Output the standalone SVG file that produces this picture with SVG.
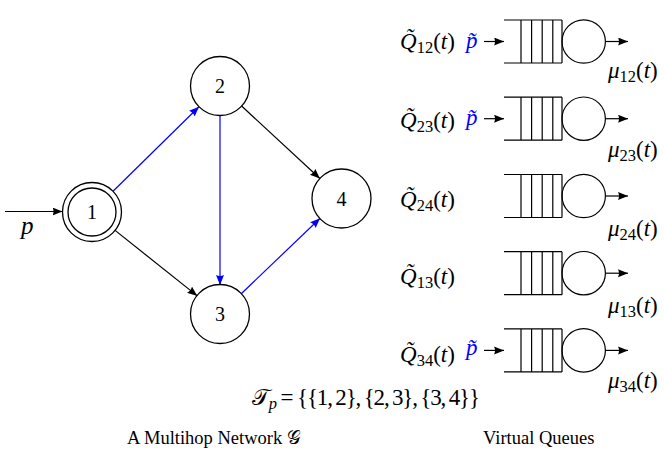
<svg xmlns="http://www.w3.org/2000/svg" xmlns:xlink="http://www.w3.org/1999/xlink" width="664" height="453" viewBox="0 0 664 453">
<style>
.ln{stroke:#000;stroke-width:1.2;fill:none}
.bl{stroke:#00f;stroke-width:1.2;fill:none}
.nd{stroke:#000;stroke-width:1.3;fill:#fff}
.m{font-family:"Liberation Serif","DejaVu Serif",serif;font-size:23px;fill:#000}
.it{font-style:italic}
.sub{font-size:16.5px}
.pb{fill:#00f}
.dg{font-family:"Liberation Serif","DejaVu Serif",serif;font-size:20px;text-anchor:middle;fill:#000}
.cap{font-family:"Liberation Serif","DejaVu Serif",serif;font-size:18.5px;fill:#000}
</style>
<defs>
<marker id="ak" markerUnits="userSpaceOnUse" markerWidth="12" markerHeight="10" refX="10" refY="4" orient="auto">
<path d="M0,0 L10,4 L0,8 Q2,4 0,0 z" fill="#000"/>
</marker>
<marker id="ab" markerUnits="userSpaceOnUse" markerWidth="12" markerHeight="10" refX="10" refY="4" orient="auto">
<path d="M0,0 L10,4 L0,8 Q2,4 0,0 z" fill="#00f"/>
</marker>
<g id="q">
<path class="ln" d="M504,-21.5H562M504,21.5H562M521,-21.5V21.5M531.6,-21.5V21.5M542.2,-21.5V21.5M552.8,-21.5V21.5M562,-21.5V21.5"/>
<circle class="ln" cx="583.7" cy="0" r="21.7"/>
<line class="ln" x1="605.4" y1="0" x2="628" y2="0" marker-end="url(#ak)"/>
</g>
<line id="qin" class="ln" x1="484" y1="0" x2="504" y2="0" marker-end="url(#ak)"/>
</defs>

<g id="connectors">
<line class="ln" x1="5" y1="211.5" x2="62.5" y2="211.5" marker-end="url(#ak)"/>
<line class="bl" x1="113" y1="191.3" x2="199" y2="106.7" marker-end="url(#ab)"/>
<line class="bl" x1="220" y1="115.5" x2="220" y2="285" marker-end="url(#ab)"/>
<line class="ln" x1="241.6" y1="106" x2="319.9" y2="178.5" marker-end="url(#ak)"/>
<line class="ln" x1="115.1" y1="230.4" x2="197.3" y2="295.9" marker-end="url(#ak)"/>
<line class="bl" x1="241" y1="294" x2="320.1" y2="218.2" marker-end="url(#ab)"/>
</g>

<g id="input-p"><text class="m it" x="21" y="234" style="font-size:25px">p</text></g>

<g id="node1">
<circle class="nd" cx="92" cy="212" r="29.5"/>
<circle class="nd" cx="92" cy="212" r="24"/>
<text class="dg" x="92" y="219">1</text>
</g>
<g id="node2">
<circle class="nd" cx="220" cy="86" r="29.5"/>
<text class="dg" x="220" y="93">2</text>
</g>
<g id="node3">
<circle class="nd" cx="220" cy="314" r="29.5"/>
<text class="dg" x="220" y="321">3</text>
</g>
<g id="node4">
<circle class="nd" cx="341.5" cy="198.5" r="29.5"/>
<text class="dg" x="341.5" y="205.5">4</text>
</g>

<g id="queue12">
<use xlink:href="#q" transform="translate(0,41.5)"/>
<use xlink:href="#qin" transform="translate(0,41.5)"/>
<text class="m" x="400" y="49"><tspan class="it">Q&#x303;</tspan><tspan class="sub" dy="4">12</tspan><tspan dy="-4">(</tspan><tspan class="it">t</tspan>)</text>
<text class="m it pb" x="466" y="48">p&#x303;</text>
<text class="m" x="608" y="78"><tspan class="it">μ</tspan><tspan class="sub" dy="4">12</tspan><tspan dy="-4">(</tspan><tspan class="it">t</tspan>)</text>
</g>
<g id="queue23">
<use xlink:href="#q" transform="translate(0,118.7)"/>
<use xlink:href="#qin" transform="translate(0,118.7)"/>
<text class="m" x="400" y="128"><tspan class="it">Q&#x303;</tspan><tspan class="sub" dy="4">23</tspan><tspan dy="-4">(</tspan><tspan class="it">t</tspan>)</text>
<text class="m it pb" x="466" y="125">p&#x303;</text>
<text class="m" x="608" y="157"><tspan class="it">μ</tspan><tspan class="sub" dy="4">23</tspan><tspan dy="-4">(</tspan><tspan class="it">t</tspan>)</text>
</g>
<g id="queue24">
<use xlink:href="#q" transform="translate(0,196)"/>
<text class="m" x="400" y="207"><tspan class="it">Q&#x303;</tspan><tspan class="sub" dy="4">24</tspan><tspan dy="-4">(</tspan><tspan class="it">t</tspan>)</text>
<text class="m" x="608" y="236"><tspan class="it">μ</tspan><tspan class="sub" dy="4">24</tspan><tspan dy="-4">(</tspan><tspan class="it">t</tspan>)</text>
</g>
<g id="queue13">
<use xlink:href="#q" transform="translate(0,273.2)"/>
<text class="m" x="400" y="284"><tspan class="it">Q&#x303;</tspan><tspan class="sub" dy="4">13</tspan><tspan dy="-4">(</tspan><tspan class="it">t</tspan>)</text>
<text class="m" x="608" y="313"><tspan class="it">μ</tspan><tspan class="sub" dy="4">13</tspan><tspan dy="-4">(</tspan><tspan class="it">t</tspan>)</text>
</g>
<g id="queue34">
<use xlink:href="#q" transform="translate(0,350.4)"/>
<use xlink:href="#qin" transform="translate(0,350.4)"/>
<text class="m" x="400" y="362"><tspan class="it">Q&#x303;</tspan><tspan class="sub" dy="4">34</tspan><tspan dy="-4">(</tspan><tspan class="it">t</tspan>)</text>
<text class="m it pb" x="466" y="355">p&#x303;</text>
<text class="m" x="608" y="388"><tspan class="it">μ</tspan><tspan class="sub" dy="4">34</tspan><tspan dy="-4">(</tspan><tspan class="it">t</tspan>)</text>
</g>

<g id="tree-set">
<text class="m" x="252" y="405" textLength="228" lengthAdjust="spacing">𝒯<tspan class="sub" dy="4" font-style="italic">p</tspan><tspan dy="-4"> = {{1,&#x2009;2},&#x2009;{2,&#x2009;3},&#x2009;{3,&#x2009;4}}</tspan></text>
</g>
<g id="captions">
<text class="cap" x="127" y="444">A Multihop Network 𝒢</text>
<text class="cap" x="483" y="444">Virtual Queues</text>
</g>
</svg>
